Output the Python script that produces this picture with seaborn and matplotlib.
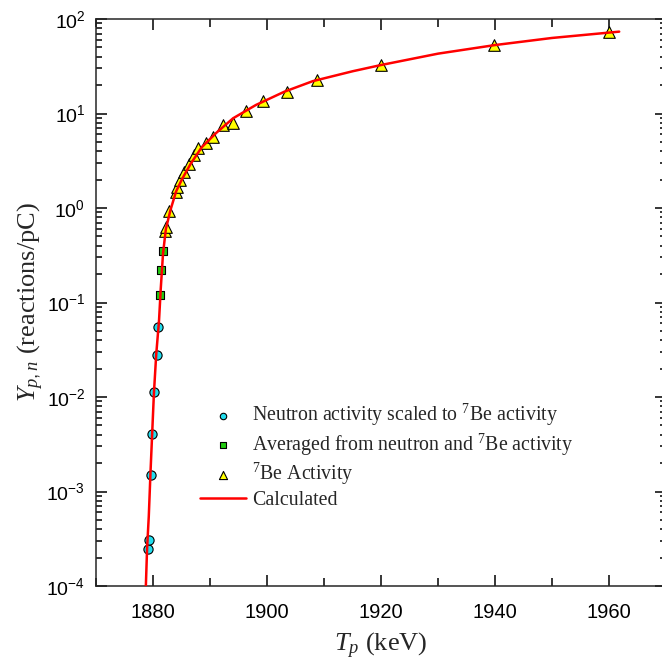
import matplotlib
matplotlib.use("Agg")
import matplotlib.pyplot as plt
import matplotlib.ticker as mticker
import seaborn as sns
import pandas as pd
import numpy as np

# ---- data ----
neutron_T = [1879.0, 1879.2, 1879.5, 1879.8, 1880.1, 1880.6, 1880.9]
neutron_Y = [0.000247, 0.00031, 0.00148, 0.00403, 0.0112, 0.0278, 0.0555]

avg_T = [1881.2, 1881.4, 1881.65]
avg_Y = [0.12, 0.221, 0.353]

be_T = [1882.1, 1882.3, 1882.8, 1883.9, 1884.1, 1884.7, 1885.4, 1886.3, 1887.2,
        1887.9, 1889.3, 1890.4, 1892.3, 1893.9, 1896.2, 1899.2, 1903.4, 1908.8,
        1920.0, 1939.8, 1960.0]
be_Y = [0.575, 0.63, 0.94, 1.49, 1.66, 1.98, 2.42, 2.92, 3.61,
        4.29, 4.84, 5.6, 7.55, 7.87, 10.6, 13.7, 17.0, 22.6,
        32.6, 53.1, 72.3]

calc_T = [1878.6, 1878.9, 1879.2, 1879.5, 1879.8, 1880.1, 1880.5, 1881.0, 1881.3,
          1881.7, 1882.2, 1883.0, 1884.0, 1885.0, 1886.5, 1888.5, 1891.0, 1894.0,
          1898.0, 1903.0, 1908.0, 1915.0, 1920.0, 1930.0, 1940.0, 1950.0, 1961.8]
calc_Y = [7e-5, 2.5e-4, 5.5e-4, 1.6e-3, 4.2e-3, 1.1e-2, 2.8e-2, 6.5e-2, 0.14,
          0.33, 0.6, 0.95, 1.5, 2.0, 2.9, 4.4, 6.2, 8.9,
          12.3, 17.0, 22.0, 28.0, 32.6, 43.0, 53.0, 63.0, 73.5]

labels = [r"Neutron activity scaled to $^{\mathbf{7}}$Be activity",
          r"Averaged from neutron and $^{\mathbf{7}}$Be activity",
          r"$^{\mathbf{7}}$Be Activity",
          "Calculated"]

sns.set_style("ticks")
plt.rcParams['font.family'] = ['Liberation Sans', 'DejaVu Sans']
plt.rcParams['mathtext.fontset'] = 'custom'
plt.rcParams['mathtext.rm'] = 'Liberation Sans'
plt.rcParams['mathtext.it'] = 'Liberation Serif:italic'
plt.rcParams['mathtext.bf'] = 'Liberation Serif'

W, H = 662, 664
fig = plt.figure(figsize=(W / 100, H / 100), dpi=100)
ax = fig.add_axes([96.4 / W, 78 / H, 569.5 / W, 567 / H])

df_n = pd.DataFrame({"T": neutron_T, "Y": neutron_Y})
df_a = pd.DataFrame({"T": avg_T, "Y": avg_Y})
df_b = pd.DataFrame({"T": be_T, "Y": be_Y})
df_c = pd.DataFrame({"T": calc_T, "Y": calc_Y})

sns.scatterplot(data=df_n, x="T", y="Y", ax=ax, marker="o", s=44,
                color="#22DDEE", edgecolor="black", linewidth=0.8,
                label=labels[0], zorder=3)
sns.scatterplot(data=df_a, x="T", y="Y", ax=ax, marker="s", s=34,
                color="#22CC11", edgecolor="black", linewidth=0.8,
                label=labels[1], zorder=3)
sns.scatterplot(data=df_b, x="T", y="Y", ax=ax, marker="^", s=70,
                color="#FFFF00", edgecolor="black", linewidth=0.8,
                label=labels[2], zorder=3)
sns.lineplot(data=df_c, x="T", y="Y", ax=ax, color="#FF0000", linewidth=1.8,
             label=labels[3], zorder=4, sort=False, estimator=None)

ax.set_yscale("log")
ax.set_xlim(1870, 1970)
ax.set_ylim(1e-4, 1e2)

ax.xaxis.set_major_locator(mticker.MultipleLocator(20))
ax.xaxis.set_minor_locator(mticker.MultipleLocator(10))
ax.yaxis.set_major_locator(mticker.LogLocator(base=10, numticks=10))
ax.yaxis.set_minor_locator(mticker.LogLocator(base=10, subs=np.arange(2, 10), numticks=20))
ax.yaxis.set_minor_formatter(mticker.NullFormatter())

for s in ax.spines.values():
    s.set_linewidth(1.1)
    s.set_visible(True)

ax.tick_params(which="both", direction="in", top=True, right=True, width=1.1,
               colors="black")
ax.tick_params(which="major", length=8)
ax.tick_params(which="minor", length=4)
ax.tick_params(axis="x", which="minor", length=6)
ax.tick_params(axis="x", pad=12, labelsize=14.5)
ax.tick_params(axis="y", pad=8, labelsize=14)

ax.set_xlabel(r"$\mathit{T}_{\mathit{p}}$ (keV)", family="Liberation Serif",
              fontsize=19, labelpad=7)
ax.set_ylabel(r"$\mathit{Y}_{\mathit{p,n}}$ (reactions/pC)", family="Liberation Serif",
              fontsize=19, labelpad=0)

handles, labs = ax.get_legend_handles_labels()
order = [labs.index(l) for l in labels]
leg = ax.legend([handles[i] for i in order], [labs[i] for i in order],
                loc="upper left", bbox_to_anchor=((200 - 96.4) / 569.5, (586 - 402) / 567),
                frameon=False, borderpad=0, borderaxespad=0, handlelength=2.3,
                handletextpad=0.3, labelspacing=0.17, markerscale=0.7,
                prop={"family": "Liberation Serif", "size": 14.3})

fig.savefig("out.png", dpi=100)
